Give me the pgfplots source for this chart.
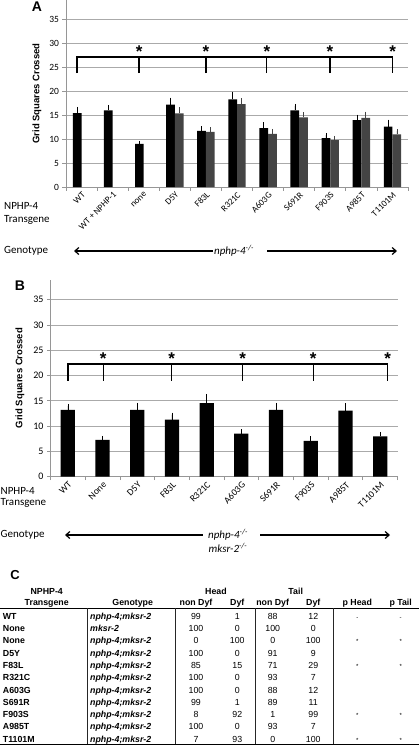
\documentclass[border=0pt]{standalone}
\usepackage{fontspec}
\setmainfont{Carlito}
\newfontfamily\arialf{Liberation Sans}
\usepackage{pgfplots}
\usepackage{pgfplotstable}
\pgfplotsset{compat=1.18}
\usetikzlibrary{arrows.meta}
\definecolor{gridc}{RGB}{170,170,170}
\definecolor{axg}{RGB}{150,150,150}
\definecolor{bartwo}{RGB}{68,68,68}

\pgfplotstableread{
x y e
-0.14 15.4 0.9
0.86 16.0 0.7
1.86 9.0 0.2
2.86 17.2 1.0
3.86 11.7 0.6
4.86 18.3 1.2
5.86 12.3 0.8
6.86 16.0 0.9
7.86 10.2 0.6
8.86 13.95 0.75
9.86 12.6 1.05
}\dataAblack
\pgfplotstableread{
x y e
3.14 15.35 0.85
4.14 11.5 0.55
5.14 17.3 0.8
6.14 11.1 0.6
7.14 14.5 0.7
8.14 9.8 0.45
9.14 14.4 0.9
10.14 11.0 0.65
}\dataAgray
\pgfplotstableread{
x y e
0 13.2 0.8
1 7.27 0.4
2 13.2 1.0
3 11.27 1.0
4 14.53 1.45
5 8.53 0.47
6 13.2 1.0
7 7.07 0.53
8 13.07 1.1
9 8.0 0.47
}\dataB

\pgfplotsset{
  panel/.style={
    scale only axis,
    axis lines*=left,
    axis line style={-, draw=axg, line width=0.8pt},
    ymin=0, ymax=39,
    ytick={0,5,...,35},
    ymajorgrids,
    grid style={draw=gridc, line width=0.8pt},
    tick align=outside,
    major tick length=3.5pt,
    tick style={draw=axg, line width=0.8pt},
    x tick label as interval,
    x tick label style={rotate=45, anchor=north east, inner sep=0.5pt, font=\fontsize{9}{9}\selectfont},
    y tick label style={font=\fontsize{9.5}{10}\selectfont},
    /pgf/number format/assume math mode=true,
    ylabel={\arialf\bfseries Grid Squares Crossed},
    ylabel style={font=\fontsize{9.5}{10}\selectfont, anchor=center},
    clip=false,
  },
  ebar/.style={error bars/.cd, y dir=plus, y explicit,
    error bar style={draw=#1, line width=0.6pt},
    error mark options={draw=#1, mark size=2pt, line width=0.6pt}},
  brk/.style={black, line width=1.3pt, mark=none},
}

\begin{document}
\begin{tikzpicture}
\useasboundingbox (0,0) rectangle (419pt,-745pt);
% ---------------- Panel A
\begin{axis}[panel, at={(66pt,-187pt)}, anchor=south west, width=342pt, height=187pt,
  xmin=-0.5, xmax=10.5, xtick={-0.5,0.5,...,10.5},
  xticklabels={WT,WT + NPHP-1,none,D5Y,F83L,R321C,A603G,S691R,F903S,A985T,T1101M},
  ylabel style={at={(axis description cs:-0.085,0.5)}}]
\addplot[ybar, bar width=0.28, fill=black, draw=none, ebar=black] table[x=x,y=y,y error=e] {\dataAblack};
\addplot[ybar, bar width=0.28, fill=bartwo, draw=none, ebar=bartwo] table[x=x,y=y,y error=e] {\dataAgray};
\addplot[brk] coordinates {(-0.15,23.75) (-0.15,27.1) (10.01,27.1) (10.01,23.75)};
\addplot[brk] coordinates {(1.85,23.75) (1.85,27.1)};
\addplot[brk] coordinates {(4.0,23.75) (4.0,27.1)};
\addplot[brk] coordinates {(5.96,23.75) (5.96,27.1)};
\addplot[brk] coordinates {(7.99,23.75) (7.99,27.1)};
\foreach \xx in {1.85,4.0,5.96,7.99,10.01}{
  \edef\tmp{\noexpand\node[anchor=base, yshift=-10pt, inner sep=0pt] at (axis cs:\xx,29) {\noexpand\arialf\noexpand\bfseries\noexpand\fontsize{17}{17}\noexpand\selectfont *};}\tmp
}
\end{axis}
% ---------------- Panel B
\begin{axis}[panel, at={(50.5pt,-476.7pt)}, anchor=south west, width=347pt, height=197.2pt,
  xmin=-0.5, xmax=9.5, xtick={-0.5,0.5,...,9.5},
  xticklabels={WT,None,D5Y,F83L,R321C,A603G,S691R,F903S,A985T,T1101M},
  x tick label style={font=\fontsize{9.5}{10}\selectfont},
  y tick label style={font=\fontsize{10}{10}\selectfont},
  ylabel style={at={(axis description cs:-0.088,0.5)}}]
\addplot[ybar, bar width=0.41, fill=black, draw=none, ebar=black] table[x=x,y=y,y error=e] {\dataB};
\addplot[brk] coordinates {(0,19.0) (0,22.3) (9.22,22.3) (9.22,19.0)};
\addplot[brk] coordinates {(1.02,19.0) (1.02,22.3)};
\addplot[brk] coordinates {(2.99,19.0) (2.99,22.3)};
\addplot[brk] coordinates {(5.04,19.0) (5.04,22.3)};
\addplot[brk] coordinates {(7.07,19.0) (7.07,22.3)};
\foreach \xx in {1.02,2.99,5.04,7.07,9.22}{
  \edef\tmp{\noexpand\node[anchor=base, yshift=-10pt, inner sep=0pt] at (axis cs:\xx,24.2) {\noexpand\arialf\noexpand\bfseries\noexpand\fontsize{17}{17}\noexpand\selectfont *};}\tmp
}
\end{axis}
% ---------------- annotations
\begin{scope}[x=1pt, y=-1pt]
\node[font=\arialf\bfseries\fontsize{14}{14}\selectfont] at (37,7) {A};
\node[font=\arialf\bfseries\fontsize{14}{14}\selectfont] at (20,286) {B};
\node[font=\arialf\bfseries\fontsize{13}{13}\selectfont] at (15,575) {C};
\begin{scope}[every node/.style={font=\fontsize{11}{11}\selectfont, inner sep=0pt}]
\node[anchor=west] at (4,206) {NPHP-4};
\node[anchor=west] at (4,220) {Transgene};
\node[anchor=west] at (4,251) {Genotype};
\node at (234,251) {\textit{nphp-4}\textsuperscript{\textit{-/-}}};
\node[anchor=west] at (0.5,491) {NPHP-4};
\node[anchor=west] at (0.5,503) {Transgene};
\node[anchor=west] at (0.5,535) {Genotype};
\node at (228,535) {\textit{nphp-4}\textsuperscript{\textit{-/-}}};
\node at (228,547.5) {\textit{mksr-2}\textsuperscript{\textit{-/-}}};
\end{scope}
\draw[line width=1.2pt, {Straight Barb[length=4pt,width=7pt]}-] (74,251) -- (213,251);
\draw[line width=1.2pt, -{Straight Barb[length=4pt,width=7pt]}] (267,251) -- (397,251);
\draw[line width=1.2pt, {Straight Barb[length=4pt,width=7pt]}-] (65,535) -- (203,535);
\draw[line width=1.2pt, -{Straight Barb[length=4pt,width=7pt]}] (260,535) -- (390,535);
% ---------------- Table C
\begin{scope}[every node/.style={inner sep=0pt, anchor=base, font=\arialf\fontsize{8.8}{9}\selectfont}]
\foreach \xx/\tt in {46.7/NPHP-4, 216/Head, 295.7/Tail}
  \node[font=\arialf\bfseries\fontsize{8.8}{9}\selectfont] at (\xx,594.9) {\tt};
\foreach \xx/\tt in {46.7/Transgene, 132.7/Genotype, 196/non Dyf, 237.3/Dyf, 272.7/non Dyf, 313.3/Dyf, 357.3/p Head, 400.7/p Tail}
  \node[font=\arialf\bfseries\fontsize{8.8}{9}\selectfont] at (\xx,605.9) {\tt};
\foreach \i/\tg/\gt/\a/\b/\c/\d/\p/\q in {
  0/WT/nphp-4;mksr-2/99/1/88/12/-/-,
  1/None/mksr-2/100/0/100/0//,
  2/None/nphp-4;mksr-2/0/100/0/100/*/*,
  3/D5Y/nphp-4;mksr-2/100/0/91/9//,
  4/F83L/nphp-4;mksr-2/85/15/71/29/*/*,
  5/R321C/nphp-4;mksr-2/100/0/93/7//,
  6/A603G/nphp-4;mksr-2/100/0/88/12//,
  7/S691R/nphp-4;mksr-2/99/1/89/11//,
  8/F903S/nphp-4;mksr-2/8/92/1/99/*/*,
  9/A985T/nphp-4;mksr-2/100/0/93/7//,
  10/T1101M/nphp-4;mksr-2/7/93/0/100/*/*}{
  \pgfmathsetmacro{\yy}{616+12.3*\i+3.2}
  \node[anchor=base west, font=\arialf\bfseries\fontsize{8.8}{9}\selectfont] at (2.7,\yy) {\tg};
  \node[anchor=base west, font=\arialf\bfseries\itshape\fontsize{8.8}{9}\selectfont] at (90,\yy) {\gt};
  \node at (196,\yy) {\a};
  \node at (237.3,\yy) {\b};
  \node at (272.7,\yy) {\c};
  \node at (313.3,\yy) {\d};
  \node[font=\arialf\fontsize{6}{6}\selectfont] at (357.3,\yy) {\p};
  \node[font=\arialf\fontsize{6}{6}\selectfont] at (400.7,\yy) {\q};
}
\end{scope}
\draw[black, line width=0.9pt] (0,608.3) -- (419,608.3);
\draw[black, line width=0.9pt] (0,744) -- (419,744);
\foreach \xx in {87.3,175.7,255,333}
  \draw[black!85, line width=0.7pt] (\xx,608.3) -- (\xx,744);
\end{scope}
\end{tikzpicture}
\end{document}
